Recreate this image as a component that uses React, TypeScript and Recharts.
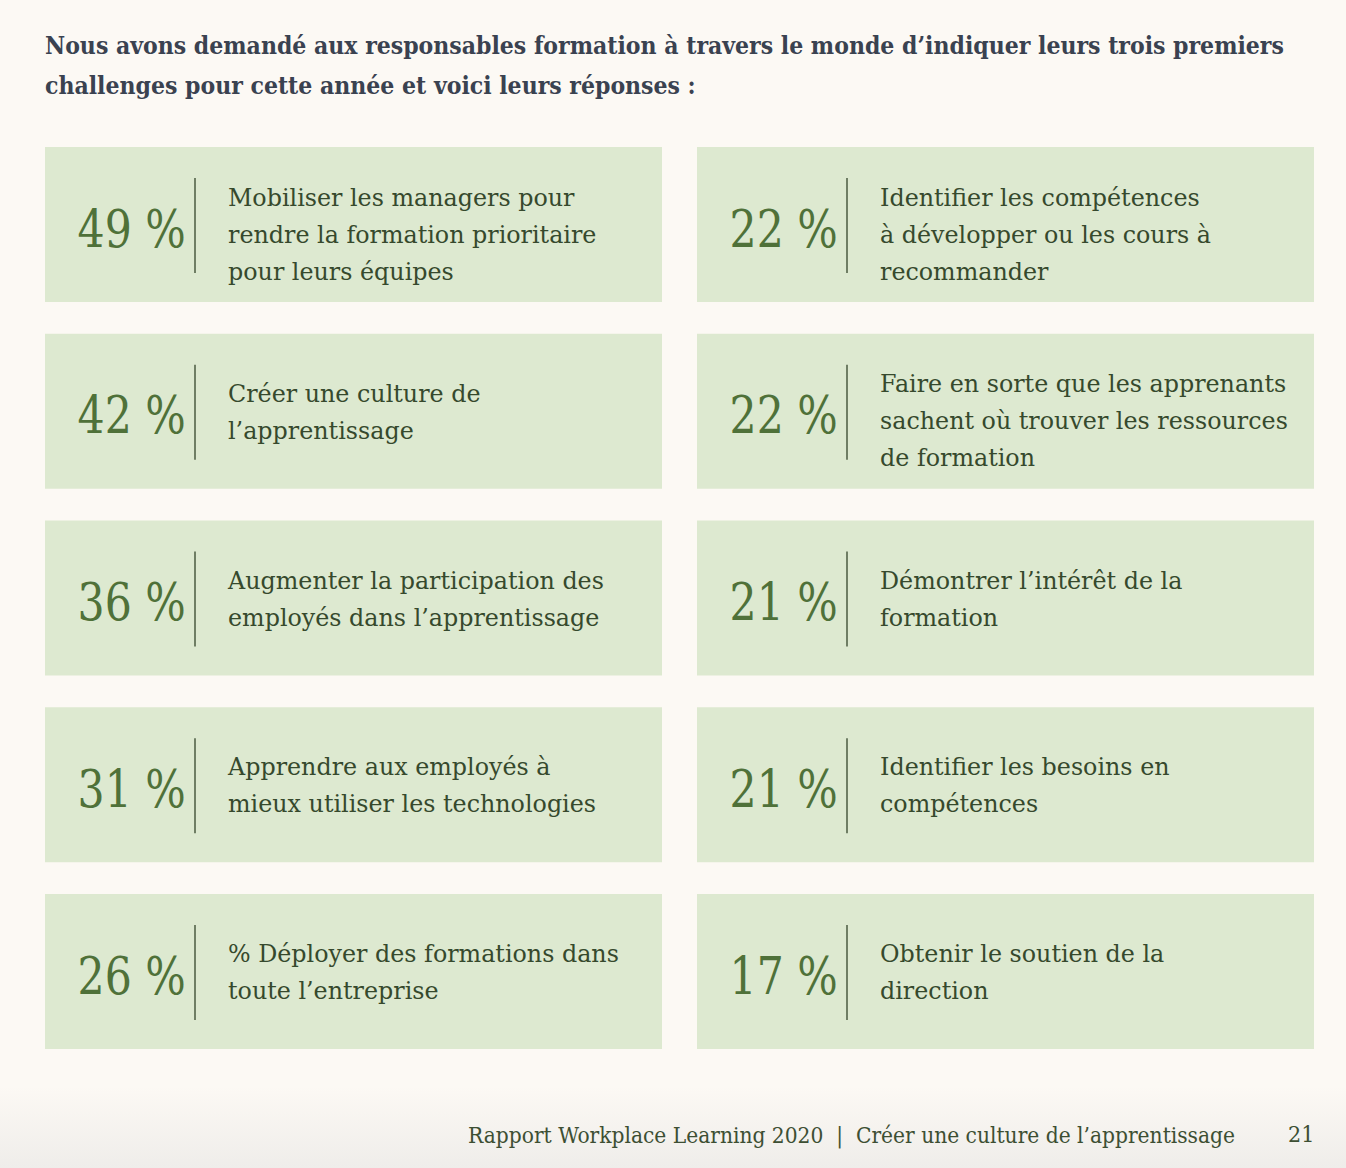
import React from "react";
import { ScatterChart, Scatter, XAxis, YAxis } from "recharts";

// les dix challenges, dans l'ordre de lecture (gauche puis droite)
const percents = [49, 22, 42, 22, 36, 21, 31, 21, 26, 17];
const columns = [0, 1, 0, 1, 0, 1, 0, 1, 0, 1];
const rows = [0, 0, 1, 1, 2, 2, 3, 3, 4, 4];
const labels = [
  ["Mobiliser les managers pour", "rendre la formation prioritaire", "pour leurs équipes"],
  ["Identifier les compétences", "à développer ou les cours à", "recommander"],
  ["Créer une culture de", "l’apprentissage"],
  ["Faire en sorte que les apprenants", "sachent où trouver les ressources", "de formation"],
  ["Augmenter la participation des", "employés dans l’apprentissage"],
  ["Démontrer l’intérêt de la", "formation"],
  ["Apprendre aux employés à", "mieux utiliser les technologies"],
  ["Identifier les besoins en", "compétences"],
  ["% Déployer des formations dans", "toute l’entreprise"],
  ["Obtenir le soutien de la", "direction"],
];

const titleLines = [
  "Nous avons demandé aux responsables formation à travers le monde d’indiquer leurs trois premiers",
  "challenges pour cette année et voici leurs réponses :",
];
const footerText = "Rapport Workplace Learning 2020  |  Créer une culture de l’apprentissage";
const pageNumber = "21";

const data = percents.map((p, i) => ({
  col: columns[i],
  row: rows[i],
  pct: p,
  lines: labels[i],
}));

const FONT = "'DejaVu Serif', serif";
const TILE_W = 617;
const TILE_H = 155;

const Tile = (props: any) => {
  const { cx, cy, payload } = props;
  const lines: string[] = payload.lines;
  const mid = lines.length === 3 ? 18 : 9;
  return (
    <g>
      <rect x={cx - TILE_W / 2} y={cy - TILE_H / 2} width={TILE_W} height={TILE_H} fill="#dde9d0" />
      {/* chiffre un peu resserré, la police d'origine est plus étroite */}
      <text
        x={0}
        y={0}
        transform={`translate(${cx - 276}, ${cy + 22}) scale(0.82, 1)`}
        fontFamily={FONT}
        fontSize={52}
        fill="#4f7139"
      >
        {payload.pct + " %"}
      </text>
      <line x1={cx - 158.5} x2={cx - 158.5} y1={cy - 46.5} y2={cy + 48.5} stroke="#4a5a40" strokeWidth={1.5} />
      {lines.map((l, i) => (
        <text
          key={i}
          x={cx - 125.5}
          y={cy + mid + (i - (lines.length - 1) / 2) * 37}
          fontFamily={FONT}
          fontSize={23.8}
          fill="#36492d"
        >
          {l}
        </text>
      ))}
    </g>
  );
};

export default function App() {
  return (
    <div
      style={{
        position: "absolute",
        left: 0,
        top: 0,
        width: 1346,
        height: 1168,
        background: "linear-gradient(to bottom, #fcf9f4 0%, #fcf9f4 93%, #efedea 100%)",
        overflow: "hidden",
      }}
    >
      <div style={{ position: "absolute", left: 45, top: 26, fontFamily: FONT, fontWeight: 700, fontSize: 24.5, color: "#3a4250", lineHeight: "40px", whiteSpace: "nowrap", fontStretch: "condensed" }}>
        {titleLines.map((t, i) => (
          <div key={i}>{t}</div>
        ))}
      </div>
      <div style={{ position: "absolute", left: 0, top: 0 }}>
        <ScatterChart width={1346} height={1168} margin={{ left: 353.5, right: 340.5, top: 224.5, bottom: 196.5 }}>
          <XAxis type="number" dataKey="col" domain={[0, 1]} hide />
          <YAxis type="number" dataKey="row" domain={[0, 4]} reversed hide />
          <Scatter data={data} shape={<Tile />} isAnimationActive={false} />
        </ScatterChart>
      </div>
      <div style={{ position: "absolute", left: 468, top: 1122, fontFamily: FONT, fontSize: 22.5, color: "#3d4f33", whiteSpace: "pre", fontStretch: "condensed" }}>
        {footerText}
      </div>
      <div style={{ position: "absolute", left: 1288, top: 1121, fontFamily: FONT, fontSize: 23, color: "#3d4f33", fontStretch: "condensed" }}>
        {pageNumber}
      </div>
    </div>
  );
}
